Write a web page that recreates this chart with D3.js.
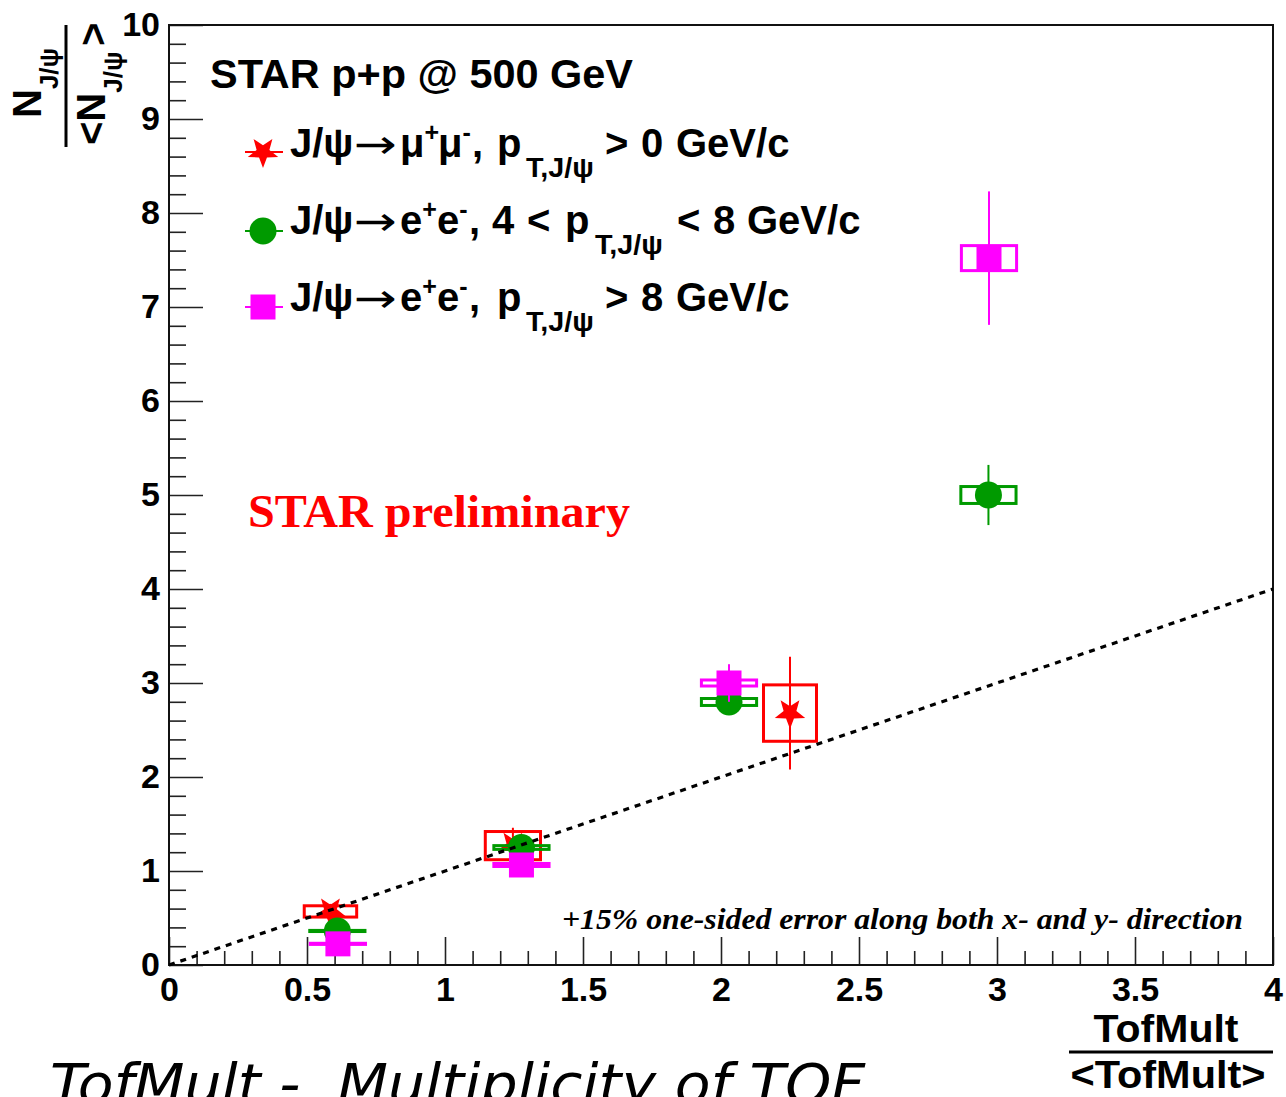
<!DOCTYPE html>
<html>
<head>
<meta charset="utf-8">
<script src="https://cdn.jsdelivr.net/npm/d3@7"></script>
<style>
  body { margin: 0; background: #fff; }
  text { font-family: "Liberation Sans", Arial, Helvetica, sans-serif; font-weight: bold; }
</style>
</head>
<body>
<svg id="chart" width="1286" height="1097"></svg>
<script>
// ---- axis ticks ----
const xTickValues = [0, 0.5, 1, 1.5, 2, 2.5, 3, 3.5, 4];
const xTickLabels = ["0", "0.5", "1", "1.5", "2", "2.5", "3", "3.5", "4"];
const yTickValues = [0, 1, 2, 3, 4, 5, 6, 7, 8, 9, 10];
const yTickLabels = ["0", "1", "2", "3", "4", "5", "6", "7", "8", "9", "10"];

// ---- J/psi -> mu+mu-, pT > 0 ----
const muX    = [0.585, 1.246, 2.25];
const muY    = [0.57, 1.27, 2.68];
const muErrY = [0.08, 0.19, 0.6];
const muSysX = [0.095, 0.1, 0.096];
const muSysY = [0.06, 0.15, 0.3];

// ---- J/psi -> e+e-, 4 < pT < 8 ----
const eeMidX    = [0.61, 1.277, 2.029, 2.969];
const eeMidY    = [0.362, 1.25, 2.798, 5.0];
const eeMidErrY = [0.06, 0.1, 0.12, 0.32];
const eeMidSysX = [0.1, 0.1, 0.1, 0.1];
const eeMidSysY = [0.006, 0.02, 0.037, 0.09];

// ---- J/psi -> e+e-, pT > 8 ----
const eeHighX    = [0.612, 1.277, 2.029, 2.971];
const eeHighY    = [0.225, 1.064, 3.0, 7.52];
const eeHighErrY = [0.06, 0.07, 0.2, 0.71];
const eeHighSysX = [0.1, 0.1, 0.1, 0.1];
const eeHighSysY = [0.006, 0.016, 0.032, 0.133];

// reference line N/<N> = TofMult/<TofMult>
const refLineX = [0, 4];
const refLineY = [0, 4];

const svg = d3.select("#chart");
const x = d3.scaleLinear().domain([0, 4]).range([169, 1273]);
const y = d3.scaleLinear().domain([0, 10]).range([965, 25]);

// ---- axes ----
const xMinor = d3.range(0, 4.0001, 0.1).filter(v => Math.abs(v * 2 - Math.round(v * 2)) > 1e-6);
const yMinor = d3.range(0, 10.0001, 0.2).filter(v => Math.abs(v - Math.round(v)) > 1e-6);

const gx = svg.append("g").attr("transform", `translate(0,${y(0)})`)
  .call(d3.axisBottom(x).tickValues(xTickValues).tickSizeInner(-28).tickSizeOuter(0)
    .tickPadding(12).tickFormat((d, i) => xTickLabels[i]));
svg.append("g").attr("transform", `translate(0,${y(0)})`)
  .call(d3.axisBottom(x).tickValues(xMinor).tickSizeInner(-14).tickSizeOuter(0).tickFormat(""));
const gy = svg.append("g").attr("transform", `translate(${x(0)},0)`)
  .call(d3.axisLeft(y).tickValues(yTickValues).tickSizeInner(-34).tickSizeOuter(0)
    .tickPadding(9).tickFormat((d, i) => yTickLabels[i]));
svg.append("g").attr("transform", `translate(${x(0)},0)`)
  .call(d3.axisLeft(y).tickValues(yMinor).tickSizeInner(-17).tickSizeOuter(0).tickFormat(""));

svg.selectAll(".domain").remove();
svg.selectAll(".tick line").attr("stroke", "#222").attr("stroke-width", 1.6);
svg.selectAll(".tick text").attr("font-size", 34).attr("fill", "#000")
  .style("font-family", "'Liberation Sans', Arial, sans-serif").style("font-weight", "bold");

// frame
svg.append("rect").attr("x", x(0)).attr("y", y(10))
  .attr("width", x(4) - x(0)).attr("height", y(0) - y(10))
  .attr("fill", "none").attr("stroke", "#111").attr("stroke-width", 2);

// ---- markers ----
function starPath(R) {
  const r = R * 0.42;
  const pts = [];
  for (let k = 0; k < 10; k++) {
    const a = Math.PI / 2 + k * Math.PI / 5; // first point downward
    const rad = k % 2 === 0 ? R : r;
    pts.push([rad * Math.cos(a), rad * Math.sin(a)]);
  }
  return "M" + pts.map(p => p[0].toFixed(2) + "," + p[1].toFixed(2)).join("L") + "Z";
}
function drawMarker(g, kind, cx, cy, color) {
  if (kind === "star") {
    g.append("path").attr("d", starPath(16)).attr("transform", `translate(${cx},${cy})`).attr("fill", color);
  } else if (kind === "circle") {
    g.append("circle").attr("cx", cx).attr("cy", cy).attr("r", 13.5).attr("fill", color);
  } else {
    g.append("rect").attr("x", cx - 12.5).attr("y", cy - 12.5).attr("width", 25).attr("height", 25).attr("fill", color);
  }
}

const series = [
  { kind: "star",   color: "#ff0000", xs: muX,     ys: muY,     err: muErrY,     sx: muSysX,     sy: muSysY },
  { kind: "circle", color: "#009a00", xs: eeMidX,  ys: eeMidY,  err: eeMidErrY,  sx: eeMidSysX,  sy: eeMidSysY },
  { kind: "square", color: "#ff00ff", xs: eeHighX, ys: eeHighY, err: eeHighErrY, sx: eeHighSysX, sy: eeHighSysY }
];

const plot = svg.append("g");
series.forEach(s => {
  const g = plot.append("g");
  s.xs.forEach((xv, i) => {
    const yv = s.ys[i];
    // systematic box
    g.append("rect")
      .attr("x", x(xv - s.sx[i])).attr("y", y(yv + s.sy[i]))
      .attr("width", x(xv + s.sx[i]) - x(xv - s.sx[i]))
      .attr("height", y(yv - s.sy[i]) - y(yv + s.sy[i]))
      .attr("fill", "none").attr("stroke", s.color).attr("stroke-width", 3);
    // statistical error bar
    g.append("line")
      .attr("x1", x(xv)).attr("x2", x(xv))
      .attr("y1", y(yv + s.err[i])).attr("y2", y(yv - s.err[i]))
      .attr("stroke", s.color).attr("stroke-width", 2);
    drawMarker(g, s.kind, x(xv), y(yv), s.color);
  });
});

// dotted reference line
plot.append("line")
  .attr("x1", x(refLineX[0])).attr("y1", y(refLineY[0]))
  .attr("x2", x(refLineX[1])).attr("y2", y(refLineY[1]))
  .attr("stroke", "#000").attr("stroke-width", 3.2).attr("stroke-dasharray", "6,6");

// ---- legend ----
svg.append("text").attr("x", 210).attr("y", 88).attr("font-size", 40)
  .attr("textLength", 423).attr("lengthAdjust", "spacingAndGlyphs").text("STAR p+p @ 500 GeV");

// each part: [text, level (-1 sup, 0 normal, 1 sub, 2 arrow), optional x]
const legendRows = [
  { kind: "star",   color: "#ff0000", cy: 152, base: 157,
    parts: [["J/ψ", 0], ["→", 2, 354], ["μ", 0, 400], ["+", -1], ["μ", 0, 438], ["-", -1], [",", 0, 472], ["p", 0, 497],
            ["T,J/ψ", 1, 526], [">", 0, 605], ["0", 0, 641], ["GeV/c", 0, 676]] },
  { kind: "circle", color: "#009a00", cy: 231, base: 234,
    parts: [["J/ψ", 0], ["→", 2, 354], ["e", 0, 400], ["+", -1], ["e", 0, 437], ["-", -1], [",", 0, 469], ["4", 0, 492],
            ["<", 0, 527], ["p", 0, 565], ["T,J/ψ", 1, 595], ["<", 0, 677], ["8", 0, 713], ["GeV/c", 0, 747]] },
  { kind: "square", color: "#ff00ff", cy: 307, base: 311,
    parts: [["J/ψ", 0], ["→", 2, 354], ["e", 0, 400], ["+", -1], ["e", 0, 437], ["-", -1], [",", 0, 469], ["p", 0, 497],
            ["T,J/ψ", 1, 526], [">", 0, 605], ["8", 0, 641], ["GeV/c", 0, 676]] }
];
legendRows.forEach(r => {
  const g = svg.append("g");
  g.append("line").attr("x1", 245).attr("x2", 283).attr("y1", r.cy).attr("y2", r.cy)
    .attr("stroke", r.color).attr("stroke-width", 2);
  drawMarker(g, r.kind, 263, r.cy, r.color);
  const t = g.append("text").attr("x", 290).attr("y", r.base).attr("font-size", 40);
  r.parts.forEach(([str, lvl, px]) => {
    const ts = t.append("tspan").text(str);
    if (lvl === -1) ts.attr("y", r.base - 16).attr("font-size", 25);
    else if (lvl === 1) ts.attr("y", r.base + 20).attr("font-size", 28)
      .attr("textLength", 68).attr("lengthAdjust", "spacingAndGlyphs");
    else if (lvl === 2) ts.attr("y", r.base + 1).attr("font-size", 40)
      .attr("textLength", 43).attr("lengthAdjust", "spacingAndGlyphs")
      .style("font-family", "'DejaVu Sans', sans-serif").style("font-weight", "normal");
    else ts.attr("y", r.base);
    if (px !== undefined) ts.attr("x", px);
  });
});

svg.append("text").attr("x", 248).attr("y", 527)
  .attr("font-size", 46).attr("fill", "#ff0000")
  .attr("textLength", 382).attr("lengthAdjust", "spacingAndGlyphs")
  .style("font-family", "'Liberation Serif', 'Times New Roman', serif")
  .text("STAR preliminary");

svg.append("text").attr("x", 562).attr("y", 929)
  .attr("font-size", 29).attr("fill", "#000")
  .attr("textLength", 681).attr("lengthAdjust", "spacingAndGlyphs")
  .style("font-family", "'Liberation Serif', 'Times New Roman', serif").style("font-style", "italic")
  .text("+15% one-sided error along both x- and y- direction");

// ---- y-axis title: N_J/psi / <N_J/psi> ----
const yt = svg.append("g").attr("transform", "translate(66,86) rotate(-90)");
yt.append("line").attr("x1", -61).attr("x2", 61).attr("y1", 0).attr("y2", 0)
  .attr("stroke", "#000").attr("stroke-width", 3);
const numT = yt.append("text").attr("x", -32).attr("y", -25).attr("font-size", 40);
numT.append("tspan").text("N");
numT.append("tspan").attr("y", -8).attr("font-size", 26).text("J/ψ");
const denT = yt.append("text").attr("x", -59).attr("y", 39).attr("font-size", 40);
denT.append("tspan").text("<N");
denT.append("tspan").attr("y", 56).attr("font-size", 26).text("J/ψ");
denT.append("tspan").attr("x", 40).attr("y", 41).text(">");

// ---- x-axis title: TofMult / <TofMult> ----
svg.append("text").attr("x", 1166).attr("y", 1042).attr("text-anchor", "middle")
  .attr("font-size", 38).attr("textLength", 145).attr("lengthAdjust", "spacingAndGlyphs").text("TofMult");
svg.append("line").attr("x1", 1069).attr("x2", 1273).attr("y1", 1052).attr("y2", 1052)
  .attr("stroke", "#000").attr("stroke-width", 3);
svg.append("text").attr("x", 1168).attr("y", 1088).attr("text-anchor", "middle")
  .attr("font-size", 38).attr("textLength", 195).attr("lengthAdjust", "spacingAndGlyphs").text("<TofMult>");

// ---- caption ----
svg.append("text").attr("x", 50).attr("y", 1103)
  .attr("font-size", 56).attr("fill", "#000")
  .attr("textLength", 815).attr("lengthAdjust", "spacingAndGlyphs")
  .style("font-family", "'DejaVu Sans Condensed', 'DejaVu Sans', sans-serif")
  .style("font-weight", "normal").style("font-style", "italic").style("white-space", "pre")
  .text("TofMult -  Multiplicity of TOF");
</script>
</body>
</html>
